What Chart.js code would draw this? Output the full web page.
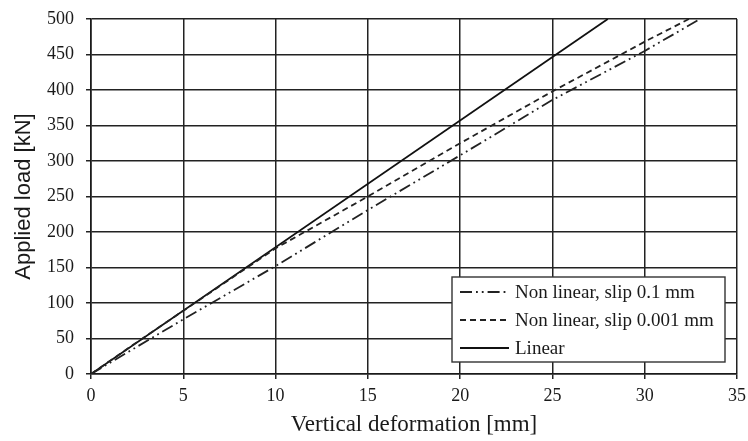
<!DOCTYPE html>
<html>
<head>
<meta charset="utf-8">
<script src="https://cdn.jsdelivr.net/npm/chart.js@4/dist/chart.umd.min.js"></script>
<style>
  html, body { margin: 0; background: #fff; }
</style>
</head>
<body>
<canvas id="loadChart" width="748" height="441"></canvas>
<script>
// values
const defSlip01 = [0, 5, 10, 15, 20, 25, 30, 33];
const loadSlip01 = [0, 77, 152, 231, 308, 386, 455, 500];
const defSlip0001 = [0, 2.5, 5, 10, 15, 20, 25, 30, 32.4];
const loadSlip0001 = [0, 45, 89, 177, 250, 325, 398, 468, 500];
const defLinear = [0, 28];
const loadLinear = [0, 500];

const seriesLabels = ["Non linear, slip 0.1 mm", "Non linear, slip 0.001 mm", "Linear"];
const xTicks = [0, 5, 10, 15, 20, 25, 30, 35];
const yTicks = [0, 50, 100, 150, 200, 250, 300, 350, 400, 450, 500];

const SERIF = "'Liberation Serif', 'Times New Roman', serif";
const SANS = "'Liberation Sans', Arial, sans-serif";
const INK = "#1a1a1a";

function pts(xs, ys) {
  return xs.map((x, i) => ({ x: x, y: ys[i] }));
}

// legend box sitting inside the plot, bottom right
const boxLegend = {
  id: "boxLegend",
  afterDraw(chart) {
    const ctx = chart.ctx;
    const bx = 452, by = 277, bw = 273, bh = 85;
    ctx.save();
    ctx.fillStyle = "#fff";
    ctx.fillRect(bx, by, bw, bh);
    ctx.strokeStyle = "#333";
    ctx.lineWidth = 1.4;
    ctx.strokeRect(bx, by, bw, bh);
    ctx.font = "19px " + SERIF;
    ctx.fillStyle = INK;
    ctx.textBaseline = "middle";
    chart.data.datasets.forEach((ds, i) => {
      const y = by + 15 + i * 28;
      ctx.strokeStyle = ds.borderColor;
      ctx.lineWidth = ds.borderWidth;
      ctx.setLineDash(ds.borderDash || []);
      ctx.beginPath();
      ctx.moveTo(460, y);
      ctx.lineTo(509, y);
      ctx.stroke();
      ctx.setLineDash([]);
      ctx.fillText(ds.label, 515, y + 1);
    });
    ctx.restore();
  }
};

new Chart(document.getElementById("loadChart"), {
  type: "scatter",
  data: {
    datasets: [
      {
        label: seriesLabels[0],
        data: pts(defSlip01, loadSlip01),
        showLine: true,
        borderColor: "#222",
        borderWidth: 1.8,
        borderDash: [12, 4, 1.8, 4, 1.8, 4],
        pointRadius: 0,
        tension: 0
      },
      {
        label: seriesLabels[1],
        data: pts(defSlip0001, loadSlip0001),
        showLine: true,
        borderColor: "#222",
        borderWidth: 1.8,
        borderDash: [6, 4],
        pointRadius: 0,
        tension: 0
      },
      {
        label: seriesLabels[2],
        data: pts(defLinear, loadLinear),
        showLine: true,
        borderColor: "#111",
        borderWidth: 1.8,
        pointRadius: 0,
        tension: 0
      }
    ]
  },
  options: {
    responsive: false,
    animation: false,
    devicePixelRatio: 1,
    layout: { padding: { top: 19, right: 11, left: 9, bottom: 0 } },
    plugins: {
      legend: { display: false },
      tooltip: { enabled: false }
    },
    scales: {
      x: {
        type: "linear",
        min: 0,
        max: 35,
        afterFit: s => { s.height = 67; s.paddingLeft = 0; s.paddingRight = 0; },
        afterBuildTicks: s => { s.ticks = xTicks.map(v => ({ value: v })); },
        ticks: { color: INK, font: { family: SERIF, size: 18 }, padding: 6 },
        grid: { color: "#222", lineWidth: 1.5, tickLength: 5 },
        border: { color: "#1a1a1a", width: 1.6 },
        title: {
          display: true,
          text: "Vertical deformation [mm]",
          color: INK,
          font: { family: SERIF, size: 23 },
          padding: { top: 2, bottom: 2 }
        }
      },
      y: {
        type: "linear",
        min: 0,
        max: 500,
        afterFit: s => { s.width = 82; s.paddingTop = 0; s.paddingBottom = 0; },
        afterBuildTicks: s => { s.ticks = yTicks.map(v => ({ value: v })); },
        ticks: { color: INK, font: { family: SERIF, size: 18 }, padding: 12 },
        grid: { color: "#222", lineWidth: 1.5, tickLength: 5 },
        border: { color: "#1a1a1a", width: 1.6 },
        title: {
          display: true,
          text: "Applied load [kN]",
          color: INK,
          font: { family: SANS, size: 22 },
          padding: { top: 2, bottom: 2 }
        }
      }
    }
  },
  plugins: [boxLegend]
});
</script>
</body>
</html>
